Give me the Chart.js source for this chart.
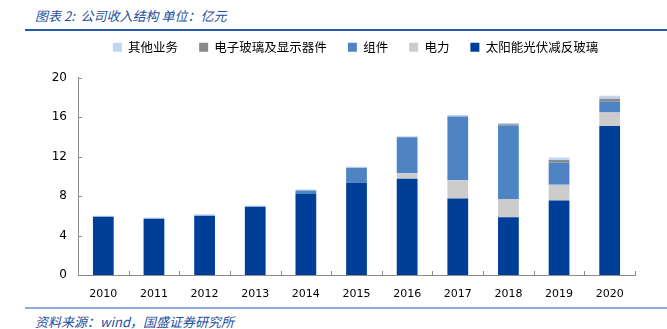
<!DOCTYPE html>
<html>
<head>
<meta charset="utf-8">
<script src="https://cdn.jsdelivr.net/npm/chart.js@4/dist/chart.umd.min.js"></script>
<style>
  body { margin: 0; width: 667px; height: 329px; background: #fff; position: relative; overflow: hidden; }
  .note { position: absolute; left: 35px; font-family: "Noto Sans CJK SC", sans-serif; font-size: 13px; font-style: italic; color: #1f4f9e; white-space: nowrap; }
  #title { top: 6px; }
  #source { top: 312px; }
  .rule { position: absolute; left: 25px; right: 0; }
  #rule_top { top: 29px; height: 2px; background: #2659a8; }
  #rule_bottom { top: 307px; height: 2px; background: #8eaadb; }
  #chart_box { position: absolute; left: 40px; top: 20px; width: 627px; height: 285px; }
</style>
</head>
<body>
<div id="title" class="note">图表 2:&nbsp; 公司收入结构 单位：亿元</div>
<div id="rule_top" class="rule"></div>
<div id="chart_box"><canvas id="IncomeChart" width="627" height="285"></canvas></div>
<div id="rule_bottom" class="rule"></div>
<div id="source" class="note">资料来源：wind，国盛证券研究所</div>
<script>
// revenue by segment, 100 million yuan
const years = ['2010', '2011', '2012', '2013', '2014', '2015', '2016', '2017', '2018', '2019', '2020'];
const solar_glass = [5.9, 5.7, 6.0, 6.9, 8.2, 9.35, 9.75, 7.75, 5.85, 7.55, 15.1];
const power = [0, 0, 0, 0, 0, 0, 0.55, 1.85, 1.85, 1.6, 1.35];
const modules = [0, 0, 0, 0, 0.35, 1.5, 3.65, 6.45, 7.45, 2.25, 1.1];
const electronic_glass = [0, 0, 0, 0, 0, 0, 0, 0, 0.12, 0.25, 0.3];
const other_business = [0.1, 0.12, 0.15, 0.15, 0.12, 0.1, 0.1, 0.15, 0.13, 0.25, 0.3];
const y_ticks = [0, 4, 8, 12, 16, 20];

const AXIS_COLOR = '#8c8c8c';

function make_dataset(label, values, color){
    return {
        label: label,
        data: values,
        backgroundColor: color,
        borderWidth: 0,
        barPercentage: 0.41,
        categoryPercentage: 1.0
    };
}

// small tick marks pointing into the plot area
const inner_ticks = {
    id: 'inner_ticks',
    afterDraw(chart){
        const ctx = chart.ctx;
        const x = chart.scales.x;
        const y = chart.scales.y;
        const area = chart.chartArea;
        ctx.save();
        ctx.strokeStyle = AXIS_COLOR;
        ctx.lineWidth = 1;
        ctx.beginPath();
        for (const v of y_ticks){
            const py = Math.round(y.getPixelForValue(v)) + 0.5;
            ctx.moveTo(area.left, py);
            ctx.lineTo(area.left + 4, py);
        }
        const step = x.getPixelForValue(1) - x.getPixelForValue(0);
        for (let i = 0; i <= years.length; i++){
            const px = Math.round(x.getPixelForValue(i) - step / 2) + 0.5;
            ctx.moveTo(px, area.bottom);
            ctx.lineTo(px, area.bottom - 4);
        }
        ctx.stroke();
        ctx.restore();
    }
};

// legend sits over the plot centre, with room below it
const legend_place = {
    id: 'legend_place',
    beforeInit(chart){
        const fit = chart.legend.fit;
        chart.legend.fit = function(){
            fit.bind(chart.legend)();
            this.height += 14;
        };
    },
    afterLayout(chart){
        chart.legend.left += 18;
        chart.legend.right += 18;
    }
};

const ctx = document.getElementById('IncomeChart').getContext('2d');
const chart = new Chart(ctx, {
    type: 'bar',
    data: {
        labels: years,
        datasets: [
            make_dataset('太阳能光伏减反玻璃', solar_glass, '#003f98'),
            make_dataset('电力', power, '#cccccc'),
            make_dataset('组件', modules, '#4f84c4'),
            make_dataset('电子玻璃及显示器件', electronic_glass, '#8a8a8a'),
            make_dataset('其他业务', other_business, '#c3d5ee')
        ]
    },
    options: {
        responsive: false,
        animation: false,
        layout: { padding: { top: 0, right: 32, bottom: 0, left: 0 } },
        plugins: {
            tooltip: { enabled: false },
            legend: {
                position: 'top',
                reverse: true,
                labels: {
                    boxWidth: 9,
                    boxHeight: 9,
                    padding: 21,
                    color: '#000',
                    font: { family: '"Noto Sans CJK SC", sans-serif', size: 12.5 }
                }
            }
        },
        scales: {
            x: {
                stacked: true,
                grid: { display: false },
                border: { color: AXIS_COLOR, width: 1 },
                ticks: {
                    color: '#000',
                    padding: 5,
                    font: { family: '"DejaVu Sans", sans-serif', size: 11 }
                },
                afterFit(scale){ scale.height = 30; }
            },
            y: {
                stacked: true,
                min: 0,
                max: 20,
                grid: { display: false },
                border: { color: AXIS_COLOR, width: 1 },
                ticks: {
                    stepSize: 4,
                    color: '#000',
                    padding: 3,
                    font: { family: '"DejaVu Sans", sans-serif', size: 12 }
                },
                afterFit(scale){ scale.width = 38; }
            }
        }
    },
    plugins: [inner_ticks, legend_place]
});
</script>
</body>
</html>
